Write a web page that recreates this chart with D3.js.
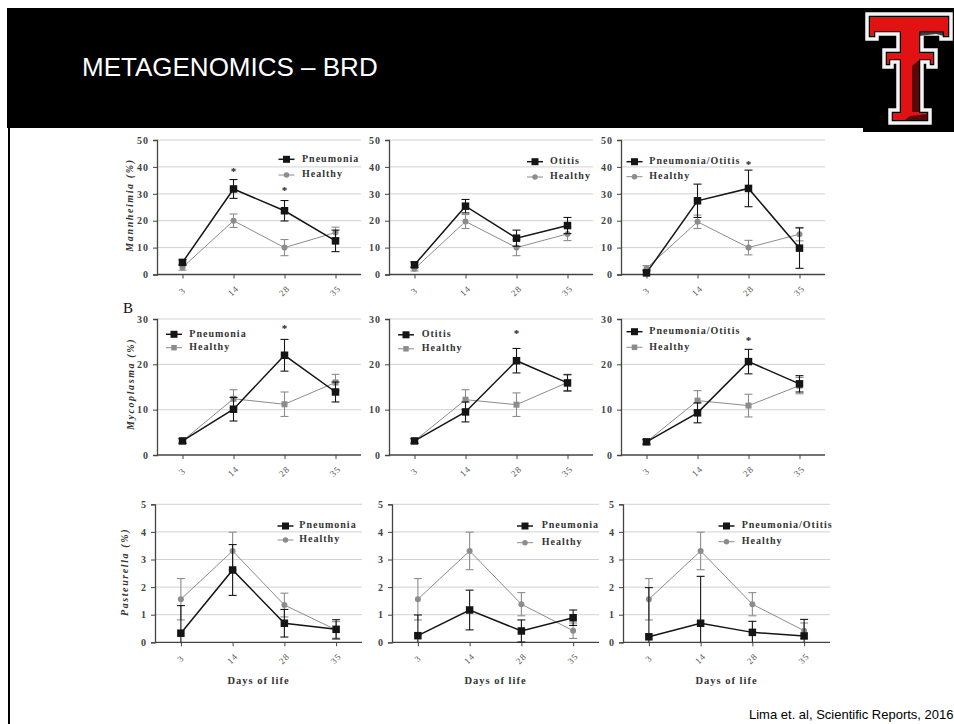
<!DOCTYPE html>
<html>
<head>
<meta charset="utf-8">
<script src="https://cdn.jsdelivr.net/npm/d3@7"></script>
<style>
  body { margin: 0; background: #fff; }
  svg { display: block; }
</style>
</head>
<body>
<svg id="c" width="954" height="724"></svg>
<script>
// ---------------- DATA ----------------
const days = ["3", "14", "28", "35"];

// Mannheimia (%)
const mannPneumonia     = [4.5, 31.8, 23.7, 12.5];
const mannPneumoniaErr  = [1.0, 3.5, 3.8, 4.0];
const mannHealthyA      = [2.6, 20.0, 10.0, 15.6];
const mannHealthyAErr   = [1.0, 2.5, 3.0, 2.0];
const mannOtitis        = [3.6, 25.4, 13.5, 18.2];
const mannOtitisErr     = [1.0, 2.5, 3.0, 3.0];
const mannHealthyB      = [2.1, 19.7, 10.0, 15.1];
const mannHealthyBErr   = [0.8, 2.6, 3.0, 2.5];
const mannPneuOtitis    = [0.6, 27.4, 32.0, 9.8];
const mannPneuOtitisErr = [1.0, 6.2, 6.8, 7.5];
const mannHealthyC      = [2.3, 19.6, 10.0, 15.0];
const mannHealthyCErr   = [1.0, 2.5, 2.7, 2.5];

// Mycoplasma (%)
const mycoPneumonia     = [3.1, 10.1, 22.0, 13.9];
const mycoPneumoniaErr  = [0.5, 2.6, 3.5, 2.2];
const mycoHealthyA      = [3.1, 12.4, 11.2, 16.0];
const mycoHealthyAErr   = [0.5, 2.0, 2.7, 1.8];
const mycoOtitis        = [3.1, 9.5, 20.8, 15.9];
const mycoOtitisErr     = [0.5, 2.2, 2.7, 1.8];
const mycoHealthyB      = [3.1, 12.2, 11.1, 16.0];
const mycoHealthyBErr   = [0.5, 2.2, 2.6, 1.8];
const mycoPneuOtitis    = [2.9, 9.3, 20.6, 15.7];
const mycoPneuOtitisErr = [0.5, 2.2, 2.7, 1.8];
const mycoHealthyC      = [2.9, 12.0, 10.9, 15.3];
const mycoHealthyCErr   = [0.5, 2.2, 2.5, 1.8];

// Pasteurella (%)
const pastPneumonia     = [0.33, 2.62, 0.69, 0.47];
const pastPneumoniaErr  = [1.0, 0.92, 0.5, 0.35];
const pastHealthyA      = [1.56, 3.31, 1.35, 0.45];
const pastHealthyAErr   = [0.75, 0.68, 0.43, 0.3];
const pastPneumonia2    = [0.24, 1.17, 0.41, 0.89];
const pastPneumonia2Err = [0.75, 0.72, 0.4, 0.28];
const pastHealthyB      = [1.56, 3.31, 1.38, 0.42];
const pastHealthyBErr   = [0.75, 0.68, 0.42, 0.28];
const pastPneuOtitis    = [0.2, 0.69, 0.36, 0.23];
const pastPneuOtitisErr = [1.78, 1.7, 0.4, 0.6];
const pastHealthyC      = [1.56, 3.31, 1.38, 0.42];
const pastHealthyCErr   = [0.75, 0.68, 0.42, 0.28];

// y-axis ticks
const mannTicks = [0, 10, 20, 30, 40, 50];
const mycoTicks = [0, 10, 20, 30];
const pastTicks = [0, 1, 2, 3, 4, 5];

// significance stars: [day, value]
const mannStarsA = [["14", 37.8], ["28", 31.0]];
const mannStarsC = [["28", 40.5]];
const mycoStarsA = [["28", 27.6]];
const mycoStarsB = [["28", 26.5]];
const mycoStarsC = [["28", 25.0]];

// ---------------- LAYOUT ----------------
const svg = d3.select("#c");
const W = 954, H = 724;
svg.append("rect").attr("width", W).attr("height", H).attr("fill", "#fff");

// header band
svg.append("rect").attr("x", 7).attr("y", 8).attr("width", W - 7).attr("height", 120).attr("fill", "#000");
svg.append("rect").attr("x", 8).attr("y", 128).attr("width", 2).attr("height", H - 128).attr("fill", "#000");
svg.append("text").attr("x", 82).attr("y", 76)
  .attr("font-family", "Liberation Sans, Arial, sans-serif").attr("font-size", 26)
  .attr("fill", "#fff").text("METAGENOMICS – BRD");

// logo
const logo = svg.append("g");
logo.append("rect").attr("x", 863).attr("y", 8).attr("width", 91).attr("height", 124).attr("fill", "#000");
const tShape = [[867,14],[951,14],[951,39],[941,39],[941,34],[922,34],[922,50],[936,50],[936,67],[928,67],[928,62],[922,62],[922,110],[930,110],[930,123],[890,123],[890,110],[898,110],[898,62],[892,62],[892,67],[884,67],[884,50],[898,50],[898,34],[877,34],[877,39],[867,39]];
logo.append("polygon").attr("points", tShape.map(d => d.join(",")).join(" "))
  .attr("fill", "#000").attr("stroke", "#f4f4f4").attr("stroke-width", 3.5).attr("stroke-linejoin", "miter");
const tRed = [[870,17],[948,17],[948,36],[944,36],[944,31],[919,31],[919,53],[933,53],[933,64],[931,64],[931,59],[919,59],[919,113],[927,113],[927,120],[893,120],[893,113],[901,113],[901,59],[889,59],[889,64],[887,64],[887,53],[901,53],[901,31],[874,31],[874,36],[870,36]];
logo.append("polygon").attr("points", tRed.map(d => d.join(",")).join(" ")).attr("fill", "#e31212");
logo.append("polygon").attr("points", "919,31 944,31 944,36 936,34 919,36").attr("fill", "#000").attr("opacity", 0.75);
logo.append("polygon").attr("points", "912,66 919,60 919,112 912,112").attr("fill", "#000").attr("opacity", 0.6);
logo.append("polygon").attr("points", "910,116 927,114 927,120 905,120").attr("fill", "#000").attr("opacity", 0.6);

// citation
svg.append("text").attr("x", 749).attr("y", 719)
  .attr("font-family", "Liberation Sans, Arial, sans-serif").attr("font-size", 13)
  .attr("fill", "#000").text("Lima et. al, Scientific Reports, 2016");

// "B" label
svg.append("text").attr("x", 123).attr("y", 313)
  .attr("font-family", "Liberation Serif, Times New Roman, serif").attr("font-size", 15)
  .attr("fill", "#111").text("B");

const serif = "Liberation Serif, Times New Roman, serif";

const rows = [
  { top: 140, bottom: 274.5, max: 50, ticks: mannTicks, lefts: [157, 389, 621], width: 204, ylabel: "Mannheimia (%)", ylabX: 131, ylabY: 205, healthyShape: "circle" },
  { top: 319, bottom: 455, max: 30, ticks: mycoTicks, lefts: [157, 389, 621], width: 204, ylabel: "Mycoplasma (%)", ylabX: 132, ylabY: 384, healthyShape: "square" },
  { top: 504.3, bottom: 642.3, max: 5, ticks: pastTicks, lefts: [155, 392, 623], width: 207, ylabel: "Pasteurella (%)", ylabX: 126, ylabY: 572, healthyShape: "circle" }
];

const panels = [
  { r: 0, c: 0, dName: "Pneumonia", d: mannPneumonia, dE: mannPneumoniaErr, h: mannHealthyA, hE: mannHealthyAErr, stars: mannStarsA, leg: [129.5, 145, 19.3, 35] },
  { r: 0, c: 1, dName: "Otitis", d: mannOtitis, dE: mannOtitisErr, h: mannHealthyB, hE: mannHealthyBErr, stars: [], leg: [146, 161, 21.7, 37] },
  { r: 0, c: 2, dName: "Pneumonia/Otitis", d: mannPneuOtitis, dE: mannPneuOtitisErr, h: mannHealthyC, hE: mannHealthyCErr, stars: mannStarsC, leg: [13.5, 28.3, 21.7, 36.7] },
  { r: 1, c: 0, dName: "Pneumonia", d: mycoPneumonia, dE: mycoPneumoniaErr, h: mycoHealthyA, hE: mycoHealthyAErr, stars: mycoStarsA, leg: [17, 32.3, 15.3, 28.7] },
  { r: 1, c: 1, dName: "Otitis", d: mycoOtitis, dE: mycoOtitisErr, h: mycoHealthyB, hE: mycoHealthyBErr, stars: mycoStarsB, leg: [17, 32.7, 15.8, 29.8] },
  { r: 1, c: 2, dName: "Pneumonia/Otitis", d: mycoPneuOtitis, dE: mycoPneuOtitisErr, h: mycoHealthyC, hE: mycoHealthyCErr, stars: mycoStarsC, leg: [13.5, 28.3, 12.7, 28.3] },
  { r: 2, c: 0, dName: "Pneumonia", d: pastPneumonia, dE: pastPneumoniaErr, h: pastHealthyA, hE: pastHealthyAErr, stars: [], leg: [130.5, 144.3, 21.7, 35.7] },
  { r: 2, c: 1, dName: "Pneumonia", d: pastPneumonia2, dE: pastPneumonia2Err, h: pastHealthyB, hE: pastHealthyBErr, stars: [], leg: [133, 149.7, 21.7, 38.4] },
  { r: 2, c: 2, dName: "Pneumonia/Otitis", d: pastPneuOtitis, dE: pastPneuOtitisErr, h: pastHealthyC, hE: pastHealthyCErr, stars: [], leg: [103.5, 118.7, 21.7, 37.4] }
];

const BLACK = "#151515", GRAY = "#8c8c8c", GRID = "#d2d2d2", AXIS = "#444";

// y labels per row
rows.forEach(row => {
  svg.append("text")
    .attr("transform", `translate(${row.ylabX},${row.ylabY}) rotate(-90)`)
    .attr("text-anchor", "middle").attr("dominant-baseline", "middle")
    .attr("font-family", serif).attr("font-size", 10).attr("font-style", "italic").attr("font-weight", "bold")
    .attr("letter-spacing", 1.6).attr("fill", "#333").text(row.ylabel);
});

panels.forEach(p => {
  const row = rows[p.r];
  const left = row.lefts[p.c];
  const x = d3.scalePoint().domain(days).range([left, left + row.width]).padding(0.5);
  const y = d3.scaleLinear().domain([0, row.max]).range([row.bottom, row.top]);
  const g = svg.append("g");

  // gridlines
  g.selectAll("line.grid").data(row.ticks.filter(t => t > 0)).join("line")
    .attr("x1", left).attr("x2", left + row.width)
    .attr("y1", d => y(d)).attr("y2", d => y(d))
    .attr("stroke", GRID).attr("stroke-width", 1);

  // y axis
  const ya = g.append("g").attr("transform", `translate(${left},0)`)
    .call(d3.axisLeft(y).tickValues(row.ticks).tickSize(4).tickPadding(4).tickFormat(d3.format("d")));
  ya.select(".domain").attr("stroke", AXIS).attr("stroke-width", 1.3);
  ya.selectAll(".tick line").attr("stroke", AXIS);
  ya.selectAll(".tick text").attr("font-family", serif).attr("font-size", 10).attr("font-weight", "bold")
    .attr("letter-spacing", 1).attr("fill", "#444");

  // x axis
  const xa = g.append("g").attr("transform", `translate(0,${row.bottom})`)
    .call(d3.axisBottom(x).tickSize(4).tickSizeOuter(0));
  xa.select(".domain").attr("stroke", AXIS).attr("stroke-width", 1.3).attr("d", `M${left},0H${left + row.width}`);
  xa.selectAll(".tick line").attr("stroke", AXIS);
  xa.selectAll(".tick text")
    .attr("y", 0).attr("dy", null)
    .attr("transform", "translate(0,17) rotate(-45)")
    .attr("text-anchor", "middle").attr("dominant-baseline", "middle")
    .attr("font-family", serif).attr("font-size", 9).attr("letter-spacing", 1).attr("fill", "#555");

  if (p.r === 2) {
    g.append("text").attr("x", left + row.width / 2).attr("y", 682)
      .attr("text-anchor", "middle").attr("dominant-baseline", "middle")
      .attr("font-family", serif).attr("font-size", 10.5).attr("font-weight", "bold")
      .attr("letter-spacing", 1).attr("fill", "#333").text("Days of life");
  }

  const series = [
    { vals: p.h, err: p.hE, color: GRAY, lw: 1, shape: row.healthyShape, size: 6 },
    { vals: p.d, err: p.dE, color: BLACK, lw: 1.5, shape: "square", size: 7.5 }
  ];
  series.forEach(s => {
    const pts = days.map((d, i) => ({ d, v: s.vals[i], e: s.err[i] }));
    const eb = g.append("g");
    pts.forEach(pt => {
      const y1 = y(pt.v + pt.e), y0 = y(Math.max(0, pt.v - pt.e));
      eb.append("line").attr("x1", x(pt.d)).attr("x2", x(pt.d)).attr("y1", y1).attr("y2", y0)
        .attr("stroke", s.color).attr("stroke-width", 1.1);
      eb.append("line").attr("x1", x(pt.d) - 4).attr("x2", x(pt.d) + 4).attr("y1", y1).attr("y2", y1)
        .attr("stroke", s.color).attr("stroke-width", 1.1);
      if (pt.v - pt.e > 0) {
        eb.append("line").attr("x1", x(pt.d) - 4).attr("x2", x(pt.d) + 4).attr("y1", y0).attr("y2", y0)
          .attr("stroke", s.color).attr("stroke-width", 1.1);
      }
    });
    g.append("path").datum(pts)
      .attr("d", d3.line().x(d => x(d.d)).y(d => y(d.v)))
      .attr("fill", "none").attr("stroke", s.color).attr("stroke-width", s.lw);
    if (s.shape === "square") {
      g.selectAll(null).data(pts).join("rect")
        .attr("x", d => x(d.d) - s.size / 2).attr("y", d => y(d.v) - s.size / 2)
        .attr("width", s.size).attr("height", s.size).attr("fill", s.color);
    } else {
      g.selectAll(null).data(pts).join("circle")
        .attr("cx", d => x(d.d)).attr("cy", d => y(d.v)).attr("r", s.size / 2).attr("fill", s.color);
    }
  });

  p.stars.forEach(st => {
    g.append("text").attr("x", x(st[0])).attr("y", y(st[1]))
      .attr("text-anchor", "middle").attr("dominant-baseline", "middle")
      .attr("font-family", serif).attr("font-size", 11).attr("font-weight", "bold").attr("fill", "#222").text("*");
  });

  const [mx, tx, ly1, ly2] = p.leg;
  const lg = g.append("g").attr("transform", `translate(${left},${row.top})`);
  [[ly1, BLACK, p.dName, 1.5, "square", 7], [ly2, GRAY, "Healthy", 1, row.healthyShape, 5.5]].forEach(e => {
    lg.append("line").attr("x1", mx - 8).attr("x2", mx + 8).attr("y1", e[0]).attr("y2", e[0])
      .attr("stroke", e[1]).attr("stroke-width", e[3]);
    if (e[4] === "square") {
      lg.append("rect").attr("x", mx - e[5] / 2).attr("y", e[0] - e[5] / 2).attr("width", e[5]).attr("height", e[5]).attr("fill", e[1]);
    } else {
      lg.append("circle").attr("cx", mx).attr("cy", e[0]).attr("r", e[5] / 2).attr("fill", e[1]);
    }
    lg.append("text").attr("x", tx).attr("y", e[0]).attr("dominant-baseline", "middle")
      .attr("font-family", serif).attr("font-size", 10).attr("font-weight", "bold")
      .attr("letter-spacing", 1).attr("fill", "#333").text(e[2]);
  });
});
</script>
</body>
</html>
